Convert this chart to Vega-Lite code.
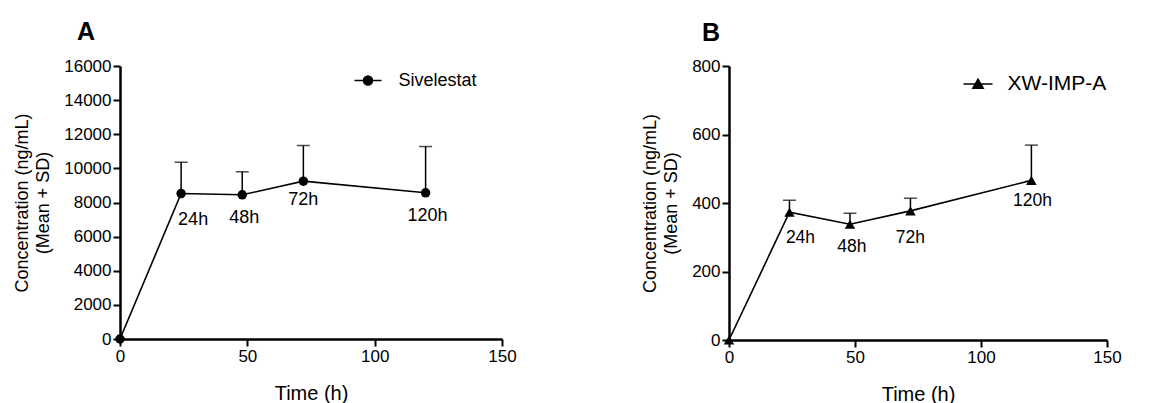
{
  "$schema": "https://vega.github.io/schema/vega-lite/v6.json",
  "background": "white",
  "padding": {"left": 13, "top": 20, "right": 5, "bottom": 5},
  "datasets": {
    "A": [
      {"time": 0, "mean": 0, "upper": null, "label": "", "series": "Sivelestat"},
      {"time": 24, "mean": 8525, "upper": 10360, "label": "24h", "series": "Sivelestat"},
      {"time": 48, "mean": 8450, "upper": 9800, "label": "48h", "series": "Sivelestat"},
      {"time": 72, "mean": 9250, "upper": 11340, "label": "72h", "series": "Sivelestat"},
      {"time": 120, "mean": 8570, "upper": 11280, "label": "120h", "series": "Sivelestat"}
    ],
    "B": [
      {"time": 0, "mean": 0, "upper": null, "label": "", "series": "XW-IMP-A"},
      {"time": 24, "mean": 373, "upper": 408, "label": "24h", "series": "XW-IMP-A"},
      {"time": 48, "mean": 338, "upper": 370, "label": "48h", "series": "XW-IMP-A"},
      {"time": 72, "mean": 377, "upper": 414, "label": "72h", "series": "XW-IMP-A"},
      {"time": 120, "mean": 466, "upper": 569, "label": "120h", "series": "XW-IMP-A"}
    ]
  },
  "config": {
    "font": "Liberation Sans",
    "view": {"stroke": null},
    "axis": {
      "grid": false,
      "domainColor": "black",
      "domainWidth": 2.5,
      "tickColor": "black",
      "tickWidth": 2,
      "tickSize": 7,
      "labelFontSize": 17,
      "labelColor": "black",
      "labelPadding": 2,
      "titleColor": "black",
      "titleFontWeight": "normal",
      "labelFlush": false,
      "labelOverlap": false
    },
    "axisX": {"titleFontSize": 20, "titlePadding": 19},
    "axisY": {"titleFontSize": 18, "titleLineHeight": 21, "titlePadding": 11},
    "title": {"fontSize": 25, "fontWeight": "bold", "color": "black", "anchor": "start", "frame": "group"},
    "legend": {"padding": 0, "labelColor": "black", "titleFontSize": 0}
  },
  "hconcat": [
    {
      "width": 382,
      "height": 273,
      "title": {"text": "A", "dx": -43, "offset": 14, "dy": 2},
      "data": {"name": "A"},
      "encoding": {
        "x": {"field": "time", "type": "quantitative", "scale": {"domain": [0, 150], "nice": false}, "axis": {"values": [0, 50, 100, 150], "title": "Time (h)", "labelOverlap": false}},
        "y": {"field": "mean", "type": "quantitative", "scale": {"domain": [0, 16000], "nice": false},
          "axis": {"values": [0, 2000, 4000, 6000, 8000, 10000, 12000, 14000, 16000], "format": "d", "labelOverlap": false, "title": ["Concentration (ng/mL)", "(Mean + SD)"]}}
      },
      "layer": [
        {
          "mark": {"type": "line", "color": "black", "strokeWidth": 1.6}
        },
        {
          "transform": [{"filter": "datum.upper != null"}],
          "mark": {"type": "rule", "color": "black", "strokeWidth": 1.5},
          "encoding": {"y2": {"field": "upper"}}
        },
        {
          "transform": [{"filter": "datum.upper != null"}],
          "mark": {"type": "tick", "orient": "horizontal", "color": "black", "size": 13, "thickness": 1.5},
          "encoding": {"y": {"field": "upper", "type": "quantitative",
            "axis": {"values": [0, 2000, 4000, 6000, 8000, 10000, 12000, 14000, 16000], "format": "d", "labelOverlap": false, "title": ["Concentration (ng/mL)", "(Mean + SD)"]}}}
        },
        {
          "mark": {"type": "point", "filled": true, "shape": "circle", "size": 90, "opacity": 1, "clip": false},
          "encoding": {
            "color": {"field": "series", "type": "nominal", "scale": {"range": ["black"]},
              "legend": {"title": null, "orient": "none", "legendX": 233.5, "legendY": 0,
                "symbolType": "M-1,0H1M0.333,0A0.333,0.333,0,1,1,-0.333,0A0.333,0.333,0,1,1,0.333,0Z",
                "symbolSize": 729, "labelFontSize": 18, "labelOffset": 16,
                "symbolFillColor": "black", "symbolStrokeColor": "black", "symbolStrokeWidth": 1.5,
                "encode": {"symbols": {"update": {"fill": {"value": "black"}, "stroke": {"value": "black"}, "strokeWidth": {"value": 1.5}, "opacity": {"value": 1}}}}}}
          }
        },
        {
          "transform": [{"filter": "datum.label == '24h'"}],
          "mark": {"type": "text", "fontSize": 18, "color": "black", "dx": 12, "dy": 26, "baseline": "middle"},
          "encoding": {"text": {"field": "label"}}
        },
        {
          "transform": [{"filter": "datum.label == '72h'"}],
          "mark": {"type": "text", "fontSize": 18, "color": "black", "dx": 0, "dy": 19, "baseline": "middle"},
          "encoding": {"text": {"field": "label"}}
        },
        {
          "transform": [{"filter": "datum.label == '48h' || datum.label == '120h'"}],
          "mark": {"type": "text", "fontSize": 18, "color": "black", "dx": 2, "dy": 23.5, "baseline": "middle"},
          "encoding": {"text": {"field": "label"}}
        }
      ]
    },
    {
      "width": 378,
      "height": 274,
      "title": {"text": "B", "dx": -27, "offset": 13, "dy": 2},
      "data": {"name": "B"},
      "encoding": {
        "x": {"field": "time", "type": "quantitative", "scale": {"domain": [0, 150], "nice": false}, "axis": {"values": [0, 50, 100, 150], "title": "Time (h)", "labelOverlap": false}},
        "y": {"field": "mean", "type": "quantitative", "scale": {"domain": [0, 800], "nice": false},
          "axis": {"values": [0, 200, 400, 600, 800], "format": "d", "labelOverlap": false, "title": ["Concentration (ng/mL)", "(Mean + SD)"]}}
      },
      "layer": [
        {
          "mark": {"type": "line", "color": "black", "strokeWidth": 1.6}
        },
        {
          "transform": [{"filter": "datum.upper != null"}],
          "mark": {"type": "rule", "color": "black", "strokeWidth": 1.5},
          "encoding": {"y2": {"field": "upper"}}
        },
        {
          "transform": [{"filter": "datum.upper != null"}],
          "mark": {"type": "tick", "orient": "horizontal", "color": "black", "size": 13, "thickness": 1.5},
          "encoding": {"y": {"field": "upper", "type": "quantitative",
            "axis": {"values": [0, 200, 400, 600, 800], "format": "d", "labelOverlap": false, "title": ["Concentration (ng/mL)", "(Mean + SD)"]}}}
        },
        {
          "mark": {"type": "point", "filled": true, "shape": "triangle-up", "size": 110, "opacity": 1, "clip": false},
          "encoding": {
            "color": {"field": "series", "type": "nominal", "scale": {"range": ["black"]},
              "legend": {"title": null, "orient": "none", "legendX": 233.5, "legendY": 2.5,
                "symbolType": "M-1,0H1M0,-0.33L0.36,0.3L-0.36,0.3Z",
                "symbolSize": 841, "labelFontSize": 21, "labelOffset": 14,
                "symbolFillColor": "black", "symbolStrokeColor": "black", "symbolStrokeWidth": 1.5,
                "encode": {"symbols": {"update": {"fill": {"value": "black"}, "stroke": {"value": "black"}, "strokeWidth": {"value": 1.5}, "opacity": {"value": 1}}}}}}
          }
        },
        {
          "transform": [{"filter": "datum.label == '24h'"}],
          "mark": {"type": "text", "fontSize": 17.5, "color": "black", "dx": 11, "dy": 26, "baseline": "middle"},
          "encoding": {"text": {"field": "label"}}
        },
        {
          "transform": [{"filter": "datum.label == '48h'"}],
          "mark": {"type": "text", "fontSize": 17.5, "color": "black", "dx": 2, "dy": 23, "baseline": "middle"},
          "encoding": {"text": {"field": "label"}}
        },
        {
          "transform": [{"filter": "datum.label == '72h'"}],
          "mark": {"type": "text", "fontSize": 17.5, "color": "black", "dx": 0, "dy": 27, "baseline": "middle"},
          "encoding": {"text": {"field": "label"}}
        },
        {
          "transform": [{"filter": "datum.label == '120h'"}],
          "mark": {"type": "text", "fontSize": 17.5, "color": "black", "dx": 1, "dy": 21, "baseline": "middle"},
          "encoding": {"text": {"field": "label"}}
        }
      ]
    }
  ],
  "spacing": 227,
  "bounds": "flush",
  "resolve": {"scale": {"color": "independent"}, "legend": {"color": "independent"}}
}
